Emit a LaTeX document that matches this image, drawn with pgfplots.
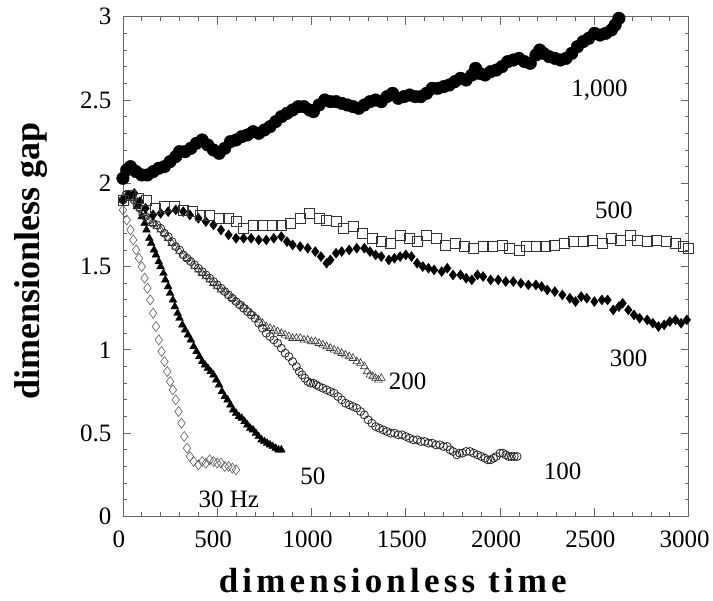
\documentclass[border=0pt]{standalone}
\usepackage{fontspec}
\setmainfont{Liberation Serif}
\usepackage{pgfplots}
\pgfplotsset{compat=1.18}
\begin{document}
\begin{tikzpicture}
\begin{axis}[
  width=566pt, height=500pt, scale only axis,
  xmin=0, xmax=3000, ymin=0, ymax=3,
  xtick={0,500,...,3000}, ytick={0,0.5,...,3},
  minor x tick num=4, minor y tick num=4,
  tick align=inside, major tick length=8pt, minor tick length=4pt,
  axis line style={black!60, line width=0.8pt},
  every tick/.style={black!60, line width=0.8pt},
  /pgf/number format/assume math mode=true,
  /pgf/number format/1000 sep={},
  ticklabel style={font=\fontsize{25}{25}\selectfont},
  xticklabel style={yshift=-11pt, xshift=-4pt},
  yticklabel style={xshift=-8pt},
  xlabel={\fontsize{35}{35}\selectfont\bfseries\addfontfeatures{LetterSpace=12}dimensionless time},
  ylabel={\fontsize{36}{36}\selectfont\bfseries dimensionless gap},
  xlabel style={at={(axis description cs:0.477,-0.129)}, anchor=center},
  ylabel style={at={(axis description cs:-0.162,0.511)}, anchor=center},
  clip=false,
]
\path (rel axis cs:-0.2173,-0.1686) rectangle (rel axis cs:1.0424,1.0334);
% 30 Hz open diamonds
\addplot[only marks, mark=diamond, mark size=5pt, mark options={line width=0.6pt, draw=black!65}] coordinates {
(0,1.84)(20,1.78)(40,1.72)(55,1.66)(70,1.60)(85,1.55)(100,1.50)(115,1.43)(130,1.37)(145,1.30)
(160,1.22)(175,1.14)(190,1.06)(205,0.99)(220,0.93)(235,0.87)(250,0.81)(265,0.76)(280,0.70)(295,0.63)
(310,0.56)(325,0.48)(340,0.41)(355,0.36)(375,0.33)(400,0.31)(420,0.33)(440,0.32)(460,0.34)(480,0.33)
(500,0.32)(520,0.32)(540,0.30)(560,0.30)(580,0.29)(600,0.28)};
% 50 filled triangles
\addplot[only marks, mark=triangle*, mark size=4.5pt, black] coordinates {
(0,1.90)(25,1.93)(50,1.92)(75,1.86)(100,1.80)(115,1.76)(125,1.72)(140,1.67)(150,1.64)(165,1.60)(175,1.57)(190,1.53)(200,1.50)(215,1.46)
(225,1.42)(240,1.38)(250,1.34)(265,1.30)(275,1.26)(290,1.22)(300,1.19)(315,1.15)(330,1.12)(345,1.09)(360,1.06)(375,1.02)(390,0.99)(405,0.96)(420,0.93)
(435,0.91)(450,0.89)(465,0.87)(480,0.85)(495,0.82)(510,0.79)(525,0.75)(540,0.72)(555,0.70)(570,0.67)(585,0.64)(600,0.62)(615,0.60)(630,0.59)(645,0.57)
(660,0.55)(675,0.53)(690,0.52)(705,0.50)(720,0.48)(735,0.46)(750,0.45)(765,0.44)(780,0.43)(795,0.42)(810,0.41)(825,0.40)(840,0.40)};
% 100 open circles
\addplot[only marks, mark=o, mark size=4pt, mark options={line width=0.8pt, draw=black!85}] coordinates {
(0,1.90)(15,1.93)(30,1.93)(45,1.92)(60,1.90)(75,1.87)(90,1.85)(105,1.82)(120,1.80)(140,1.78)(160,1.76)(180,1.75)(200,1.73)
(220,1.70)(240,1.68)(260,1.65)(280,1.62)(300,1.60)(320,1.57)(340,1.55)(360,1.53)(380,1.51)(400,1.49)(420,1.47)(440,1.45)
(460,1.43)(480,1.41)(500,1.39)(520,1.37)(540,1.35)(560,1.33)(580,1.31)(600,1.29)(620,1.27)(640,1.25)(660,1.23)(680,1.21)
(700,1.19)(720,1.16)(740,1.13)(760,1.10)(780,1.08)(800,1.06)(820,1.04)(840,1.01)(860,0.98)(880,0.96)(900,0.93)(920,0.90)
(935,0.87)(950,0.85)(965,0.83)(980,0.81)(995,0.80)(1010,0.80)(1025,0.79)(1040,0.78)(1060,0.77)(1080,0.76)(1100,0.75)
(1120,0.74)(1140,0.72)(1160,0.70)(1180,0.68)(1200,0.67)(1220,0.66)(1240,0.65)(1260,0.63)(1280,0.61)(1300,0.58)(1320,0.56)
(1340,0.54)(1360,0.53)(1380,0.52)(1400,0.51)(1420,0.50)(1440,0.50)(1460,0.49)(1480,0.49)(1500,0.48)(1520,0.47)(1540,0.46)
(1560,0.46)(1580,0.45)(1600,0.45)(1620,0.44)(1640,0.44)(1660,0.43)(1680,0.43)(1700,0.42)(1720,0.42)(1735,0.40)(1750,0.39)
(1770,0.37)(1785,0.38)(1800,0.38)(1820,0.39)(1840,0.39)(1860,0.38)(1880,0.37)(1900,0.36)(1920,0.35)(1935,0.34)(1950,0.34)
(1965,0.35)(1980,0.36)(2000,0.38)(2015,0.38)(2030,0.37)(2045,0.36)(2060,0.36)(2075,0.36)(2090,0.36)};
% 200 open triangles
\addplot[only marks, mark=triangle, mark size=4.5pt, mark options={line width=0.6pt, draw=black!80}] coordinates {
(0,1.90)(15,1.92)(30,1.93)(45,1.91)(60,1.90)(75,1.87)(90,1.85)(105,1.82)(120,1.80)(140,1.78)(160,1.76)(180,1.74)(200,1.72)
(220,1.70)(240,1.67)(260,1.64)(280,1.62)(300,1.59)(320,1.57)(340,1.55)(360,1.53)(380,1.50)(400,1.48)(420,1.46)(440,1.44)
(460,1.42)(480,1.40)(500,1.38)(520,1.36)(540,1.35)(560,1.33)(580,1.31)(600,1.29)(620,1.27)(640,1.26)(660,1.24)(680,1.22)
(700,1.20)(720,1.18)(740,1.16)(760,1.14)(780,1.13)(800,1.12)(820,1.11)(840,1.10)(860,1.09)(880,1.08)(900,1.07)(920,1.07)
(940,1.07)(960,1.06)(980,1.06)(1000,1.05)(1020,1.05)(1040,1.04)(1060,1.03)(1080,1.02)(1100,1.01)(1120,1.00)(1140,0.99)
(1160,0.98)(1180,0.97)(1200,0.96)(1220,0.95)(1240,0.93)(1260,0.92)(1280,0.90)(1295,0.87)(1310,0.85)(1325,0.84)(1340,0.83)
(1355,0.82)(1370,0.83)};
% 300 filled diamonds
\addplot[only marks, mark=diamond*, mark size=5pt, black] coordinates {
(0,1.90)(30,1.93)(60,1.94)(90,1.89)(120,1.85)(160,1.81)(200,1.82)(240,1.83)(280,1.84)(320,1.83)
(355,1.81)(400,1.79)(440,1.77)(480,1.75)(520,1.72)(560,1.69)(600,1.67)(640,1.67)(680,1.67)(720,1.66)
(760,1.66)(800,1.67)(840,1.68)(870,1.65)(900,1.63)(940,1.62)(980,1.61)(1020,1.59)(1050,1.56)(1080,1.52)
(1100,1.54)(1130,1.58)(1160,1.59)(1200,1.60)(1240,1.61)(1280,1.61)(1310,1.59)(1340,1.57)(1370,1.56)(1410,1.54)
(1440,1.55)(1470,1.56)(1500,1.57)(1530,1.56)(1560,1.52)(1590,1.50)(1620,1.49)(1650,1.48)(1690,1.47)(1720,1.49)
(1750,1.45)(1790,1.45)(1820,1.43)(1850,1.42)(1880,1.45)(1910,1.44)(1950,1.42)(1990,1.42)(2030,1.41)(2070,1.41)
(2110,1.40)(2150,1.39)(2190,1.39)(2220,1.38)(2250,1.36)(2290,1.35)(2330,1.33)(2370,1.31)(2400,1.29)(2430,1.32)
(2460,1.31)(2500,1.29)(2540,1.30)(2570,1.30)(2600,1.24)(2630,1.26)(2650,1.28)(2680,1.24)(2710,1.21)(2740,1.19)
(2780,1.18)(2810,1.16)(2840,1.14)(2870,1.15)(2900,1.17)(2930,1.18)(2960,1.16)(2990,1.18)};
% 500 open squares
\addplot[only marks, mark=square, mark size=5pt, mark options={line width=0.6pt, draw=black!80}] coordinates {
(0,1.90)(40,1.93)(80,1.91)(125,1.90)(170,1.85)(220,1.86)(270,1.86)(320,1.84)(370,1.83)(410,1.81)
(460,1.81)(510,1.79)(560,1.79)(600,1.77)(640,1.73)(690,1.75)(740,1.75)(790,1.75)(840,1.75)(890,1.76)
(940,1.79)(990,1.82)(1040,1.79)(1080,1.78)(1130,1.77)(1170,1.73)(1220,1.74)(1270,1.70)(1320,1.67)(1370,1.65)
(1420,1.64)(1470,1.69)(1520,1.67)(1560,1.65)(1610,1.69)(1660,1.67)(1710,1.63)(1760,1.64)(1810,1.62)(1860,1.61)
(1910,1.62)(1960,1.62)(2010,1.63)(2050,1.61)(2100,1.60)(2140,1.62)(2190,1.62)(2240,1.62)(2290,1.63)(2340,1.64)
(2390,1.65)(2440,1.65)(2490,1.66)(2540,1.64)(2590,1.67)(2640,1.66)(2690,1.69)(2730,1.66)(2780,1.65)(2830,1.66)
(2880,1.65)(2930,1.64)(2970,1.62)(3000,1.61)};
% 1000 filled circles
\addplot[only marks, mark=*, mark size=6.3pt, black] coordinates {
(0,2.03)(20,2.08)(40,2.10)(70,2.07)(100,2.05)(130,2.05)(160,2.07)(190,2.09)(220,2.10)(250,2.13)
(280,2.16)(300,2.19)(330,2.19)(360,2.21)(390,2.24)(420,2.26)(450,2.23)(480,2.20)(510,2.18)(540,2.21)
(570,2.25)(600,2.26)(630,2.28)(660,2.29)(690,2.31)(720,2.30)(750,2.32)(780,2.34)(810,2.37)(840,2.40)
(870,2.42)(900,2.44)(930,2.46)(960,2.46)(990,2.44)(1010,2.43)(1040,2.47)(1070,2.50)(1100,2.49)(1130,2.49)
(1160,2.48)(1190,2.47)(1220,2.46)(1250,2.45)(1280,2.47)(1310,2.49)(1340,2.50)(1370,2.49)(1400,2.52)(1430,2.54)
(1460,2.51)(1490,2.52)(1520,2.53)(1550,2.52)(1580,2.52)(1610,2.54)(1640,2.57)(1670,2.57)(1700,2.58)(1730,2.59)
(1760,2.61)(1790,2.63)(1820,2.62)(1850,2.65)(1870,2.69)(1890,2.66)(1920,2.65)(1950,2.67)(1980,2.68)(2010,2.70)
(2040,2.73)(2070,2.74)(2100,2.75)(2130,2.73)(2160,2.72)(2190,2.77)(2210,2.80)(2230,2.78)(2260,2.76)(2290,2.75)
(2320,2.74)(2350,2.75)(2380,2.78)(2410,2.82)(2440,2.85)(2470,2.87)(2500,2.90)(2530,2.89)(2560,2.90)(2590,2.92)
(2610,2.95)(2630,2.99)};
\node[font=\fontsize{25}{25}\selectfont] at (axis cs:2527,2.56) {1,000};
\node[font=\fontsize{25}{25}\selectfont] at (axis cs:2603,1.84) {500};
\node[font=\fontsize{25}{25}\selectfont] at (axis cs:2682,0.95) {300};
\node[font=\fontsize{25}{25}\selectfont] at (axis cs:1510,0.81) {200};
\node[font=\fontsize{25}{25}\selectfont] at (axis cs:2332,0.27) {100};
\node[font=\fontsize{25}{25}\selectfont] at (axis cs:1007,0.24) {50};
\node[font=\fontsize{25}{25}\selectfont] at (axis cs:562,0.10) {30 Hz};
\end{axis}
\end{tikzpicture}
\end{document}
